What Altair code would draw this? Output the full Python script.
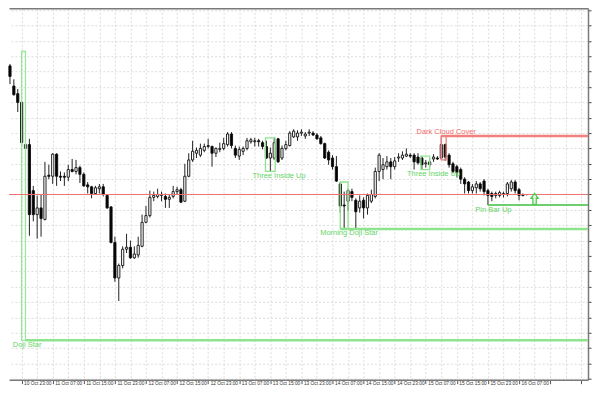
import altair as alt
import pandas as pd

# Prices are stored in pips above BASE (1 pip = 0.0001)
BASE = 1.3000
PIP = 0.0001

open_pips = [342, 321, 313, 304, 256, 260, 212, 187, 194, 182,
             228, 227, 250, 227, 227, 226, 234, 232, 236, 229,
             218, 216, 209, 214, 216, 207, 195, 158, 121, 134,
             151, 153, 142, 145, 154, 179, 186, 205, 206, 207,
             206, 203, 206, 211, 213, 201, 227, 244, 251, 249,
             254, 258, 258, 251, 255, 256, 260, 271, 256, 248,
             253, 256, 263, 263, 264, 262, 258, 246, 246, 266,
             246, 256, 259, 268, 268, 272, 269, 272, 272, 270,
             267, 261, 252, 246, 237, 219, 197, 201, 211, 202,
             194, 202, 194, 201, 206, 232, 234, 237, 242, 237,
             246, 246, 248, 249, 249, 247, 246, 240, 239, 245,
             246, 246, 260, 249, 240, 237, 234, 224, 221, 212,
             215, 219, 222, 212, 209, 207, 207, 208, 209, 214,
             221, 213, 208, 208]

high_pips = [344, 328, 318, 305, 357, 266, 217, 207, 208, 242,
             239, 251, 251, 232, 231, 239, 245, 244, 238, 231,
             221, 217, 217, 219, 219, 208, 196, 164, 136, 154,
             167, 160, 154, 164, 187, 196, 212, 211, 214, 211,
             209, 208, 217, 216, 215, 240, 251, 264, 257, 261,
             261, 266, 259, 257, 262, 267, 273, 273, 259, 258,
             258, 267, 267, 267, 266, 264, 264, 257, 267, 267,
             259, 264, 274, 276, 275, 276, 273, 276, 274, 272,
             269, 262, 254, 249, 248, 221, 211, 214, 214, 204,
             207, 205, 209, 213, 236, 251, 246, 248, 246, 247,
             251, 253, 256, 251, 251, 251, 248, 244, 246, 250,
             248, 269, 261, 251, 242, 239, 236, 226, 222, 219,
             222, 221, 224, 214, 211, 211, 212, 211, 221, 223,
             223, 215, 209, 208]

low_pips = [323, 311, 294, 259, 56, 165, 180, 162, 164, 181,
            224, 219, 217, 222, 217, 222, 231, 229, 220, 216,
            209, 204, 208, 209, 206, 193, 157, 117, 97, 131,
            147, 141, 141, 142, 153, 178, 184, 201, 204, 201,
            194, 194, 204, 208, 199, 200, 226, 242, 246, 247,
            252, 256, 237, 247, 252, 254, 258, 256, 246, 244,
            249, 254, 261, 258, 258, 255, 245, 232, 244, 241,
            244, 254, 258, 267, 264, 269, 266, 269, 269, 265,
            260, 245, 239, 234, 221, 189, 172, 191, 201, 173,
            189, 183, 187, 199, 204, 222, 224, 234, 224, 234,
            242, 244, 247, 246, 234, 239, 234, 236, 236, 242,
            244, 244, 243, 236, 230, 226, 219, 209, 209, 209,
            209, 211, 207, 197, 201, 204, 205, 205, 206, 211,
            209, 202, 206, 207]

close_pips = [331, 312, 304, 262, 260, 187, 187, 194, 183, 227,
              227, 250, 227, 226, 226, 234, 232, 236, 229, 217,
              216, 209, 215, 216, 208, 194, 158, 121, 134, 151,
              153, 142, 146, 155, 179, 186, 205, 207, 208, 208,
              203, 205, 211, 213, 200, 227, 244, 253, 254, 256,
              258, 259, 251, 256, 256, 261, 271, 259, 249, 255,
              256, 264, 265, 264, 263, 258, 246, 251, 262, 242,
              256, 260, 272, 274, 272, 273, 271, 273, 270, 266,
              261, 246, 244, 237, 222, 196, 196, 212, 205, 190,
              201, 194, 207, 208, 232, 249, 239, 242, 237, 243,
              247, 249, 250, 248, 242, 241, 239, 241, 242, 247,
              245, 260, 247, 239, 232, 231, 224, 219, 212, 216,
              219, 214, 211, 207, 206, 209, 210, 209, 219, 221,
              212, 207, 207, 208]

time_labels = ["10 Oct 23:00", "11 Oct 07:00", "11 Oct 15:00", "11 Oct 23:00",
               "12 Oct 07:00", "12 Oct 15:00", "12 Oct 23:00", "13 Oct 07:00",
               "13 Oct 15:00", "13 Oct 23:00", "14 Oct 07:00", "14 Oct 15:00",
               "14 Oct 23:00", "15 Oct 07:00", "15 Oct 15:00", "15 Oct 23:00",
               "16 Oct 07:00"]

# pattern boxes: name, first bar, last bar, top pips, bottom pips, colour
pat_names = ["Doji Star", "Three Inside Up", "Morning Doji Star", "Three Inside Up", "Dark Cloud Cover"]
pat_x1 = [3, 65.75, 85, 105.75, 111]
pat_x2 = [4, 68.25, 87, 108, 112.25]
pat_top = [357, 267, 221, 248, 269]
pat_bot = [56, 232, 172, 234, 244]
pat_color = ["#9be89b", "#8fe38f", "#8fe38f", "#8fe38f", "#f47f7f"]

# horizontal levels: start bar, price pips, colour, width
lvl_start = [4, 85, 123, 111]
lvl_price = [56, 172, 197, 269]
lvl_color = ["#8fe38f", "#8fe38f", "#3cbf3c", "#f47f7f"]
lvl_width = [2.5, 2.5, 1.5, 2.5]

# labels: text, bar position, price pips, colour
lab_text = ["Doji Star", "Three Inside Up", "Morning Doji Star", "Three Inside Up", "Dark Cloud Cover", "Pin Bar Up"]
lab_x = [4.4, 69.25, 87.25, 109, 112.25, 124.4]
lab_y = [51, 227, 168, 229, 273, 192]
lab_color = ["#66d466", "#66d466", "#66d466", "#66d466", "#f26a6a", "#66d466"]

bid_pips = 208
arrow_bar = [135]
arrow_pips = [203.5]

X_MIN, X_MAX = -0.25, 148.75
Y_MIN, Y_MAX = 1.3015, 1.3402

def px(v):
    return round(BASE + v * PIP, 5)

n = len(open_pips)
candles = pd.DataFrame({
    "bar": list(range(n)),
    "open": [px(v) for v in open_pips],
    "high": [px(v) for v in high_pips],
    "low": [px(v) for v in low_pips],
    "close": [px(v) for v in close_pips],
})
candles["fill"] = ["#ffffff" if c >= o else "#000000" for o, c in zip(open_pips, close_pips)]

patterns = pd.DataFrame({
    "name": pat_names, "x1": pat_x1, "x2": pat_x2,
    "top": [px(v) for v in pat_top], "bot": [px(v) for v in pat_bot], "color": pat_color,
})
levels = pd.DataFrame({
    "start": lvl_start + [X_MIN], "end": [X_MAX] * (len(lvl_start) + 1),
    "price": [px(v) for v in lvl_price] + [px(bid_pips)],
    "color": lvl_color + ["#f07070"], "width": lvl_width + [1.0],
})
labels = pd.DataFrame({"text": lab_text, "x": lab_x, "y": [px(v) for v in lab_y], "color": lab_color})
arrow = pd.DataFrame({"x": arrow_bar, "y": [px(v) for v in arrow_pips]})

xs = alt.Scale(domain=[X_MIN, X_MAX], nice=False, zero=False, padding=0)
ys = alt.Scale(domain=[Y_MIN, Y_MAX], nice=False, zero=False, padding=0)

grid_x = list(range(3, 148, 4))
grid_y = [round(1.3400 - 0.0016 * k, 4) for k in range(25)]

lab_js = "[" + ",".join("'%s'" % s for s in time_labels) + "]"
is_lab = "(datum.value - 3) % 8 == 0"

x_axis = alt.Axis(
    values=grid_x, title=None,
    labelExpr=f"{is_lab} ? {lab_js}[(datum.value - 3) / 8] : ''",
    grid=True, gridColor="#dcdcdc", gridDash=[2, 2], gridWidth=1,
    domain=True, domainColor="#7a7a7a", domainWidth=1.5,
    ticks=True, tickSize=4, tickColor="#555555",
    tickOpacity={"condition": {"test": is_lab, "value": 1}, "value": 0},
    labelAlign="left", labelBaseline="top", labelFontSize=4.8, labelFont="Liberation Sans",
    labelColor="#333333", labelPadding=-3, labelOffset=2, labelOverlap=False, labelFlush=False,
)
y_axis = alt.Axis(
    orient="right", values=grid_y, title=None, labels=False,
    grid=True, gridColor="#dcdcdc", gridDash=[2, 2], gridWidth=1,
    ticks=True, tickSize=3, tickColor="#444444",
    domain=True, domainColor="#7a7a7a", domainWidth=1.5,
)
top_axis = alt.Axis(orient="top", title=None, labels=False, ticks=False, grid=False,
                    domain=True, domainColor="#7a7a7a", domainWidth=1.5)

wicks = alt.Chart(candles).mark_rule(color="#222222", strokeWidth=1).encode(
    x=alt.X("bar:Q", scale=xs, axis=x_axis),
    y=alt.Y("low:Q", scale=ys, axis=y_axis),
    y2="high:Q",
)
bodies = alt.Chart(candles).mark_bar(size=2.2, stroke="#111111", strokeWidth=0.9).encode(
    x=alt.X("bar:Q", scale=xs, axis=None),
    y=alt.Y("open:Q", scale=ys, axis=y_axis),
    y2="close:Q",
    fill=alt.Fill("fill:N", scale=None),
)
boxes = alt.Chart(patterns).mark_rect(fillOpacity=0, strokeWidth=1.3).encode(
    x=alt.X("x1:Q", scale=xs, axis=None), x2="x2:Q",
    y=alt.Y("top:Q", scale=ys, axis=y_axis), y2="bot:Q",
    stroke=alt.Stroke("color:N", scale=None),
)
lines = alt.Chart(levels).mark_rule().encode(
    x=alt.X("start:Q", scale=xs, axis=None), x2="end:Q",
    y=alt.Y("price:Q", scale=ys, axis=y_axis),
    color=alt.Color("color:N", scale=None),
    strokeWidth=alt.StrokeWidth("width:Q", scale=None),
)
texts = alt.Chart(labels).mark_text(font="Liberation Sans", fontSize=7.5, align="center", baseline="middle").encode(
    x=alt.X("x:Q", scale=xs, axis=top_axis),
    y=alt.Y("y:Q", scale=ys, axis=y_axis),
    text="text:N",
    color=alt.Color("color:N", scale=None),
)
arrow_path = "M0,-1 L0.65,-0.1 L0.3,-0.1 L0.3,1 L-0.3,1 L-0.3,-0.1 L-0.65,-0.1 Z"
arrows = alt.Chart(arrow).mark_point(shape=arrow_path, filled=False, stroke="#4cc94c", strokeWidth=1.3, size=121, opacity=1).encode(
    x=alt.X("x:Q", scale=xs, axis=None),
    y=alt.Y("y:Q", scale=ys, axis=y_axis),
)

chart = alt.layer(wicks, bodies, boxes, lines, texts, arrows).resolve_axis(x="independent").properties(
    width=580, height=372,
    padding={"left": 0, "top": 0, "right": 0, "bottom": 0},
    background="white",
).configure_view(stroke=None)

chart.save("out.html", embed_options={"renderer": "svg", "actions": False})
